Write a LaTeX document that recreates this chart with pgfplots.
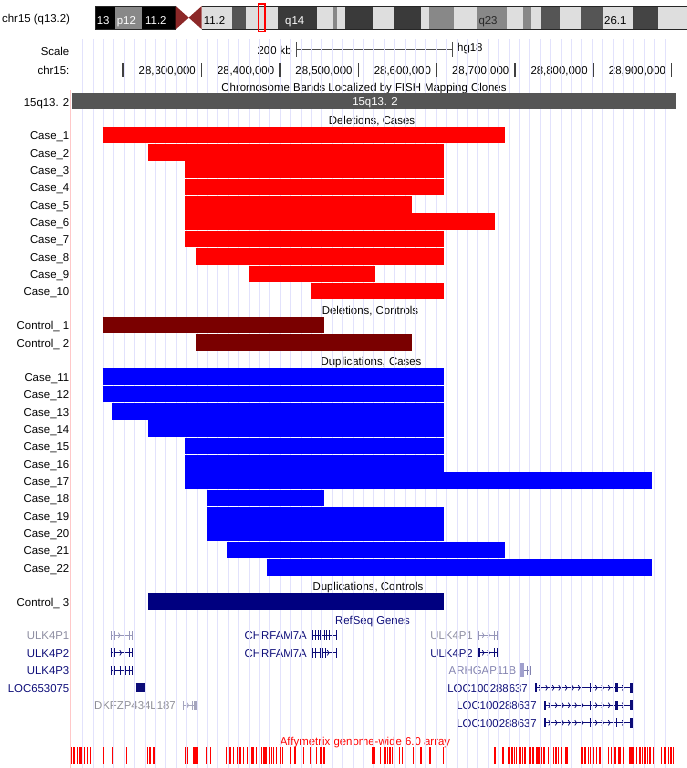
\documentclass[border=0pt]{standalone}
\usepackage{pgfplots}
\pgfplotsset{compat=1.18}
\usepackage{fontspec}
\setmainfont{Liberation Sans}
\definecolor{guide}{RGB}{226,226,252}
\definecolor{navyg}{RGB}{12,12,120}
\definecolor{lightg}{RGB}{150,150,185}
\definecolor{lighttx}{RGB}{140,140,160}
\definecolor{grayg}{RGB}{165,165,190}
\definecolor{graytx}{RGB}{140,140,150}
\definecolor{argc}{RGB}{130,130,175}
\definecolor{argl}{RGB}{160,160,205}
\definecolor{delctl}{RGB}{122,0,0}
\definecolor{dupctl}{RGB}{0,0,128}
\definecolor{fishbar}{RGB}{85,85,85}
\definecolor{pinkb}{RGB}{255,200,200}
\definecolor{bLight}{RGB}{222,222,222}
\definecolor{bGray}{RGB}{136,136,136}
\definecolor{bMid}{RGB}{85,85,85}
\definecolor{bDark}{RGB}{58,58,58}
\definecolor{bDk2}{RGB}{68,68,68}
\definecolor{centro}{RGB}{140,40,40}
\newcommand{\tf}{\fontsize{11.4}{13}\selectfont}
\tikzset{lab/.style={anchor=base east, inner sep=0pt, font=\tf},
  mid/.style={anchor=base, inner sep=0pt, font=\tf},
  lw/.style={anchor=base west, inner sep=0pt, font=\tf}}
\pgfplotsset{base/.style={scale only axis, width=687pt, height=768pt, hide axis,
  ymin=0, ymax=768, y dir=reverse, clip=false}}
\newcommand{\cnv}[4]{\addplot[#1, line width=16.6pt] coordinates {(#2,#4) (#3,#4)};}
\newcommand{\seg}[5]{\addplot[#1, line width=#5pt] coordinates {(#2,#4) (#3,#4)};}
\newcommand{\chev}[3]{\pgfmathsetmacro\cxa{#2-1.7}\pgfmathsetmacro\cya{#3-2.6}\pgfmathsetmacro\cyb{#3+2.6}%
  \addplot[#1, line width=0.8pt] coordinates {(\cxa,\cya) (#2,#3) (\cxa,\cyb)};}
\begin{document}
\begin{tikzpicture}
% ---------------- pixel frame axis ----------------
\begin{axis}[base, name=P, xmin=0, xmax=687]
% guidelines
\addplot[only marks, mark=|, mark size=364.5pt, color=guide, line width=1pt] coordinates {
(82.7,403.5) (93.1,403.5) (103.5,403.5) (113.9,403.5) (124.3,403.5) (134.7,403.5) (145.1,403.5) (155.5,403.5)
(165.9,403.5) (176.3,403.5) (186.7,403.5) (197.1,403.5) (207.5,403.5) (217.9,403.5) (228.3,403.5) (238.7,403.5)
(249.1,403.5) (259.5,403.5) (269.9,403.5) (280.3,403.5) (290.7,403.5) (301.1,403.5) (311.5,403.5) (321.9,403.5)
(332.3,403.5) (342.7,403.5) (353.1,403.5) (363.5,403.5) (373.9,403.5) (384.3,403.5) (394.7,403.5) (405.1,403.5)
(415.5,403.5) (425.9,403.5) (436.3,403.5) (446.7,403.5) (457.1,403.5) (467.5,403.5) (477.9,403.5) (488.3,403.5)
(498.7,403.5) (509.1,403.5) (519.5,403.5) (529.9,403.5) (540.3,403.5) (550.7,403.5) (561.1,403.5) (571.5,403.5)
(581.9,403.5) (592.3,403.5) (602.7,403.5) (613.1,403.5) (623.5,403.5) (633.9,403.5) (644.3,403.5) (654.7,403.5)
(665.1,403.5)};
\addplot[pinkb, line width=1pt] coordinates {(70.7,90) (70.7,768)};
% ideogram bands
\seg{black}{95}{115}{17.65}{23.3}
\seg{bGray}{115}{141.7}{17.65}{23.3}
\seg{black}{141.7}{175.7}{17.65}{23.3}
\seg{bLight}{201.7}{231.7}{17.65}{23.3}
\seg{bMid}{231.7}{245.7}{17.65}{23.3}
\seg{bLight}{245.7}{278.3}{17.65}{23.3}
\seg{bDark}{278.3}{316.7}{17.65}{23.3}
\seg{bLight}{316.7}{333.3}{17.65}{23.3}
\seg{bGray}{333.3}{337.3}{17.65}{23.3}
\seg{bLight}{337.3}{345}{17.65}{23.3}
\seg{bDark}{345}{373.3}{17.65}{23.3}
\seg{bLight}{373.3}{394}{17.65}{23.3}
\seg{bDark}{394}{420.7}{17.65}{23.3}
\seg{bLight}{420.7}{429}{17.65}{23.3}
\seg{bGray}{429}{454}{17.65}{23.3}
\seg{bLight}{454}{477.3}{17.65}{23.3}
\seg{bGray}{477.3}{506.7}{17.65}{23.3}
\seg{bLight}{506.7}{523.3}{17.65}{23.3}
\seg{bGray}{523.3}{530.7}{17.65}{23.3}
\seg{bLight}{530.7}{540.7}{17.65}{23.3}
\seg{bMid}{540.7}{560}{17.65}{23.3}
\seg{bLight}{560}{581.3}{17.65}{23.3}
\seg{bMid}{581.3}{602.7}{17.65}{23.3}
\seg{bLight}{602.7}{633.3}{17.65}{23.3}
\seg{bDk2}{633.3}{658.3}{17.65}{23.3}
\seg{bLight}{658.3}{687}{17.65}{23.3}
\addplot[fill=centro, draw=none] coordinates {(175.7,6) (188.7,17.65) (175.7,29.3)};
\addplot[fill=centro, draw=none] coordinates {(201.7,6) (188.7,17.65) (201.7,29.3)};
\addplot[black!85, line width=0.8pt] coordinates {(175.7,6) (95,6) (95,29.3) (175.7,29.3)};
\addplot[black!85, line width=0.8pt] coordinates {(201.7,6) (687,6)};
\addplot[black!85, line width=0.8pt] coordinates {(201.7,29.3) (687,29.3)};
\addplot[red, line width=1.3pt] coordinates {(258.3,4) (265,4) (265,31.5) (258.3,31.5) (258.3,4)};
\node[lw, white] at (axis cs:96.7,24.3) {13};
\node[lw, white] at (axis cs:116.7,24.3) {p12};
\node[lw, white] at (axis cs:145,24.3) {11.2};
\node[lw, black] at (axis cs:203.7,24.3) {11.2};
\node[lw, white] at (axis cs:285,24.3) {q14};
\node[lw, black!85] at (axis cs:478.3,24.3) {q23};
\node[lw, black] at (axis cs:604,24.3) {26.1};
\node[lw] at (axis cs:2,22.5) {chr15 (q13.2)};
% scale bar
\addplot[black!70, line width=1pt] coordinates {(296.2,49.3) (452.2,49.3)};
\addplot[only marks, mark=|, mark size=7.5pt, color=black!70, line width=1pt] coordinates {(296.2,49.3) (452.2,49.3)};
\node[lab] at (axis cs:69.5,55.5) {Scale};
\node[lab] at (axis cs:292,55) {200 kb};
\node[lw] at (axis cs:457,52) {hg18};
\node[lab] at (axis cs:69.5,74.5) {chr15:};
\node[lab] at (axis cs:196.0,74.5) {28,300,000};
\node[lab] at (axis cs:274.3,74.5) {28,400,000};
\node[lab] at (axis cs:352.7,74.5) {28,500,000};
\node[lab] at (axis cs:431.1,74.5) {28,600,000};
\node[lab] at (axis cs:509.4,74.5) {28,700,000};
\node[lab] at (axis cs:587.8,74.5) {28,800,000};
\node[lab] at (axis cs:666.2,74.5) {28,900,000};
% track titles
\node[mid] at (axis cs:364,91.5) {Chromosome Bands Localized by FISH Mapping Clones};
\node[lab] at (axis cs:69.5,106) {15q13. 2};
\node[mid] at (axis cs:372,124.5) {Deletions, Cases};
\node[mid] at (axis cs:370,314.5) {Deletions, Controls};
\node[mid] at (axis cs:371,365.5) {Duplications, Cases};
\node[mid] at (axis cs:368,590) {Duplications, Controls};
\node[mid, navyg] at (axis cs:372.5,624.5) {RefSeq Genes};
\node[mid, red] at (axis cs:365,745.5) {Affymetrix genome-wide 6.0 array};
% row labels
\node[lab] at (axis cs:69.5,139.8) {Case\_1};
\node[lab] at (axis cs:69.5,157.15) {Case\_2};
\node[lab] at (axis cs:69.5,174.5) {Case\_3};
\node[lab] at (axis cs:69.5,191.85) {Case\_4};
\node[lab] at (axis cs:69.5,209.2) {Case\_5};
\node[lab] at (axis cs:69.5,226.55) {Case\_6};
\node[lab] at (axis cs:69.5,243.9) {Case\_7};
\node[lab] at (axis cs:69.5,261.25) {Case\_8};
\node[lab] at (axis cs:69.5,278.6) {Case\_9};
\node[lab] at (axis cs:69.5,295.95) {Case\_10};
\node[lab] at (axis cs:69.5,329.8) {Control\_ 1};
\node[lab] at (axis cs:69.5,347.15) {Control\_ 2};
\node[lab] at (axis cs:69.5,381.4) {Case\_11};
\node[lab] at (axis cs:69.5,398.75) {Case\_12};
\node[lab] at (axis cs:69.5,416.1) {Case\_13};
\node[lab] at (axis cs:69.5,433.45) {Case\_14};
\node[lab] at (axis cs:69.5,450.8) {Case\_15};
\node[lab] at (axis cs:69.5,468.15) {Case\_16};
\node[lab] at (axis cs:69.5,485.5) {Case\_17};
\node[lab] at (axis cs:69.5,502.85) {Case\_18};
\node[lab] at (axis cs:69.5,520.2) {Case\_19};
\node[lab] at (axis cs:69.5,537.55) {Case\_20};
\node[lab] at (axis cs:69.5,554.9) {Case\_21};
\node[lab] at (axis cs:69.5,572.25) {Case\_22};
\node[lab] at (axis cs:69.5,606.4) {Control\_ 3};
% gene labels
\node[lab, lighttx] at (axis cs:69.5,639.5) {ULK4P1};
\node[lab, navyg] at (axis cs:69.5,657) {ULK4P2};
\node[lab, navyg] at (axis cs:69.5,674.5) {ULK4P3};
\node[lab, navyg] at (axis cs:69.5,692) {LOC653075};
\node[lab, graytx] at (axis cs:176,709.5) {DKFZP434L187};
\node[lab, navyg] at (axis cs:307,639.5) {CHRFAM7A};
\node[lab, navyg] at (axis cs:307,657) {CHRFAM7A};
\node[lab, lighttx] at (axis cs:473,639.5) {ULK4P1};
\node[lab, navyg] at (axis cs:473,657) {ULK4P2};
\node[lab, argc] at (axis cs:516.5,674.5) {ARHGAP11B};
\node[lab, navyg] at (axis cs:528,692) {LOC100288637};
\node[lab, navyg] at (axis cs:537,709.5) {LOC100288637};
\node[lab, navyg] at (axis cs:537,727) {LOC100288637};
% gene structures
\seg{lightg}{110.7}{133.3}{635.3}{1}
\seg{lightg}{110.7}{111.7}{635.3}{9}
\seg{lightg}{113.5}{115}{635.3}{9}
\chev{lightg}{120}{635.3}
\seg{lightg}{128.8}{129.8}{635.3}{9}
\seg{lightg}{132.3}{133.3}{635.3}{9}
\seg{navyg}{110.7}{133.3}{652.8}{1}
\seg{navyg}{110.7}{112.2}{652.8}{9}
\seg{navyg}{113.3}{114.8}{652.8}{9}
\chev{navyg}{121.5}{652.8}
\seg{navyg}{128.8}{129.8}{652.8}{9}
\seg{navyg}{132.3}{133.3}{652.8}{9}
\seg{navyg}{110.7}{133.3}{670.3}{1}
\seg{navyg}{110.7}{112.2}{670.3}{9}
\seg{navyg}{113.3}{114.8}{670.3}{9}
\seg{navyg}{119.5}{120.5}{670.3}{9}
\seg{navyg}{124.5}{125.5}{670.3}{9}
\seg{navyg}{128.8}{129.8}{670.3}{9}
\seg{navyg}{132.3}{133.3}{670.3}{9}
\seg{navyg}{135.7}{145}{687.8}{9}
\seg{grayg}{182.7}{196.7}{705.3}{1}
\seg{grayg}{182.7}{183.7}{705.3}{9}
\chev{grayg}{188.5}{705.3}
\seg{grayg}{192.2}{193.0}{705.3}{9}
\seg{grayg}{194.2}{196.7}{705.3}{9}
\seg{navyg}{311.7}{337.3}{635.3}{1}
\seg{navyg}{311.7}{313}{635.3}{10}
\seg{navyg}{315.2}{316.2}{635.3}{10}
\seg{navyg}{317.8}{318.8}{635.3}{10}
\seg{navyg}{320}{322}{635.3}{10}
\seg{navyg}{323.5}{324.5}{635.3}{10}
\seg{navyg}{326.2}{327.2}{635.3}{10}
\seg{navyg}{328.8}{329.8}{635.3}{10}
\seg{navyg}{332.2}{333.2}{635.3}{10}
\seg{navyg}{336.3}{337.3}{635.3}{10}
\seg{navyg}{311.7}{337.3}{652.8}{1}
\seg{navyg}{311.7}{313}{652.8}{10}
\seg{navyg}{315.2}{316.2}{652.8}{10}
\seg{navyg}{319.5}{322.5}{652.8}{10}
\seg{navyg}{324.5}{325.5}{652.8}{10}
\chev{navyg}{329}{652.8}
\seg{navyg}{332.2}{333.2}{652.8}{10}
\seg{navyg}{336.3}{337.3}{652.8}{10}
\seg{lightg}{478.3}{499.3}{635.3}{1}
\seg{lightg}{478.3}{479.3}{635.3}{9}
\chev{lightg}{484}{635.3}
\chev{lightg}{489.5}{635.3}
\seg{lightg}{494}{495}{635.3}{9}
\seg{lightg}{496.8}{499.3}{635.3}{9}
\seg{navyg}{478.3}{499.3}{652.8}{1}
\seg{navyg}{478.3}{479.5}{652.8}{9}
\chev{navyg}{484}{652.8}
\chev{navyg}{489.5}{652.8}
\seg{navyg}{494}{495}{652.8}{9}
\seg{navyg}{496.8}{499.3}{652.8}{9}
\seg{argl}{519.3}{523.5}{670.3}{14}
\seg{argc}{523.5}{530.5}{670.3}{1}
\seg{argc}{527.3}{528.3}{670.3}{9}
\seg{argc}{529.5}{530.5}{670.3}{9}
\seg{navyg}{535}{633.3}{687.8}{1}
\seg{navyg}{535}{536.5}{687.8}{9}
\chev{navyg}{541}{687.8}\chev{navyg}{547.5}{687.8}\chev{navyg}{554}{687.8}\chev{navyg}{560.5}{687.8}
\chev{navyg}{567}{687.8}\chev{navyg}{573.5}{687.8}\chev{navyg}{580}{687.8}
\seg{navyg}{589.5}{591}{687.8}{9}
\chev{navyg}{597}{687.8}\chev{navyg}{603.5}{687.8}\chev{navyg}{610}{687.8}
\seg{navyg}{615}{617.7}{687.8}{9}
\chev{navyg}{624}{687.8}
\seg{navyg}{630.3}{633.3}{687.8}{10}
\seg{navyg}{544}{633.3}{705.3}{1}
\seg{navyg}{544}{545.5}{705.3}{9}
\chev{navyg}{550.5}{705.3}\chev{navyg}{557}{705.3}\chev{navyg}{563.5}{705.3}\chev{navyg}{570}{705.3}
\chev{navyg}{576.5}{705.3}\chev{navyg}{583}{705.3}
\seg{navyg}{589.5}{591}{705.3}{9}
\chev{navyg}{597}{705.3}\chev{navyg}{603.5}{705.3}\chev{navyg}{610}{705.3}
\seg{navyg}{615}{617.7}{705.3}{9}
\chev{navyg}{624}{705.3}
\seg{navyg}{630.3}{633.3}{705.3}{10}
\seg{navyg}{544}{633.3}{722.8}{1}
\seg{navyg}{544}{545.5}{722.8}{9}
\chev{navyg}{550.5}{722.8}\chev{navyg}{557}{722.8}\chev{navyg}{563.5}{722.8}\chev{navyg}{570}{722.8}
\chev{navyg}{576.5}{722.8}\chev{navyg}{583}{722.8}
\seg{navyg}{589.5}{591}{722.8}{9}
\chev{navyg}{597}{722.8}\chev{navyg}{603.5}{722.8}\chev{navyg}{610}{722.8}
\seg{navyg}{616}{617}{722.8}{9}
\chev{navyg}{624}{722.8}
\seg{navyg}{630.3}{633.3}{722.8}{10}
% Affymetrix probes
\addplot[only marks, mark=|, mark size=8.5pt, color=red, line width=1.2pt] coordinates {
(71.7,755.5) (74,755.5) (77.3,755.5) (80,755.5) (81.2,755.5) (84.3,755.5) (87.3,755.5) (90.7,755.5)
(103.3,755.5) (112.7,755.5) (126.7,755.5) (147.3,755.5) (150,755.5) (154,755.5) (185.7,755.5) (187.7,755.5)
(193.3,755.5) (194.8,755.5) (196,755.5) (197.7,755.5) (206.7,755.5) (210.7,755.5) (226.7,755.5) (230,755.5)
(233.3,755.5) (237.3,755.5) (240,755.5) (243.7,755.5) (247.3,755.5) (252,755.5) (253.3,755.5) (256.7,755.5)
(261.7,755.5) (263.3,755.5) (265,755.5) (266.7,755.5) (269.3,755.5) (271.7,755.5) (273.3,755.5) (276.7,755.5)
(280.7,755.5) (282.7,755.5) (290.7,755.5) (295,755.5) (303.3,755.5) (310.7,755.5) (316.7,755.5) (321,755.5)
(324,755.5) (372.3,755.5) (373.5,755.5) (374.5,755.5) (380.7,755.5) (385,755.5) (387.7,755.5) (390,755.5)
(392.3,755.5) (399.3,755.5) (402.7,755.5) (413.3,755.5) (421,755.5) (430,755.5) (443.3,755.5) (495,755.5)
(503,755.5) (509,755.5) (512,755.5) (514.5,755.5) (516.7,755.5) (520,755.5) (522.3,755.5) (525,755.5)
(530,755.5) (533,755.5) (536.7,755.5) (538,755.5) (539.5,755.5) (541.7,755.5) (544,755.5) (548.3,755.5)
(553.3,755.5) (556,755.5) (558.3,755.5) (561.7,755.5) (566,755.5) (567.3,755.5) (582,755.5) (585,755.5)
(588.3,755.5) (590.7,755.5) (593.3,755.5) (596.7,755.5) (600,755.5) (608.3,755.5) (611.7,755.5) (615,755.5)
(618.3,755.5) (620,755.5) (623.3,755.5) (630,755.5) (631.2,755.5) (632.3,755.5) (633.3,755.5) (636.7,755.5)
(640,755.5) (642.3,755.5) (645,755.5) (647.3,755.5) (650,755.5) (653.3,755.5) (661.7,755.5) (665,755.5)
(668.3,755.5) (671,755.5) (673.3,755.5)};
\end{axis}
% ---------------- genomic axis (Mb) ----------------
\begin{axis}[base, xmin=28.04285, xmax=28.91958]
\addplot[fishbar, line width=16.5pt] coordinates {(28.1351,100.8) (28.9049,100.8)};
\node[mid, white] at (axis cs:28.5214,106) {15q13. 2};
\addplot[only marks, mark=|, mark size=6.7pt, color=black!75, line width=1.3pt] coordinates {
(28.2,70) (28.3,70) (28.4,70) (28.5,70) (28.6,70) (28.7,70) (28.8,70) (28.9,70)};
% Deletions, cases
\cnv{red}{28.1739}{28.6877}{135.0}
\cnv{red}{28.2317}{28.6091}{152.35}
\cnv{red}{28.2793}{28.6091}{169.7}
\cnv{red}{28.2793}{28.6091}{187.05}
\cnv{red}{28.2793}{28.5682}{204.4}
\cnv{red}{28.2793}{28.6742}{221.75}
\cnv{red}{28.2793}{28.6091}{239.1}
\cnv{red}{28.2926}{28.6091}{256.45}
\cnv{red}{28.3610}{28.5214}{273.8}
\cnv{red}{28.4397}{28.6091}{291.15}
% Deletions, controls
\cnv{delctl}{28.1739}{28.4563}{325.0}
\cnv{delctl}{28.2926}{28.5682}{342.35}
% Duplications, cases
\cnv{blue}{28.1739}{28.6091}{376.6}
\cnv{blue}{28.1739}{28.6091}{393.95}
\cnv{blue}{28.1862}{28.6091}{411.3}
\cnv{blue}{28.2317}{28.6091}{428.65}
\cnv{blue}{28.2793}{28.6091}{446.0}
\cnv{blue}{28.2793}{28.6091}{463.35}
\cnv{blue}{28.2793}{28.8749}{480.7}
\cnv{blue}{28.3070}{28.4563}{498.05}
\cnv{blue}{28.3070}{28.6091}{515.4}
\cnv{blue}{28.3070}{28.6091}{532.75}
\cnv{blue}{28.3325}{28.6877}{550.1}
\cnv{blue}{28.3832}{28.8749}{567.45}
% Duplications, controls
\cnv{dupctl}{28.2317}{28.6091}{601.6}
\end{axis}
\pgfresetboundingbox
\path (P.south west) rectangle (P.north east);
\end{tikzpicture}
\end{document}
